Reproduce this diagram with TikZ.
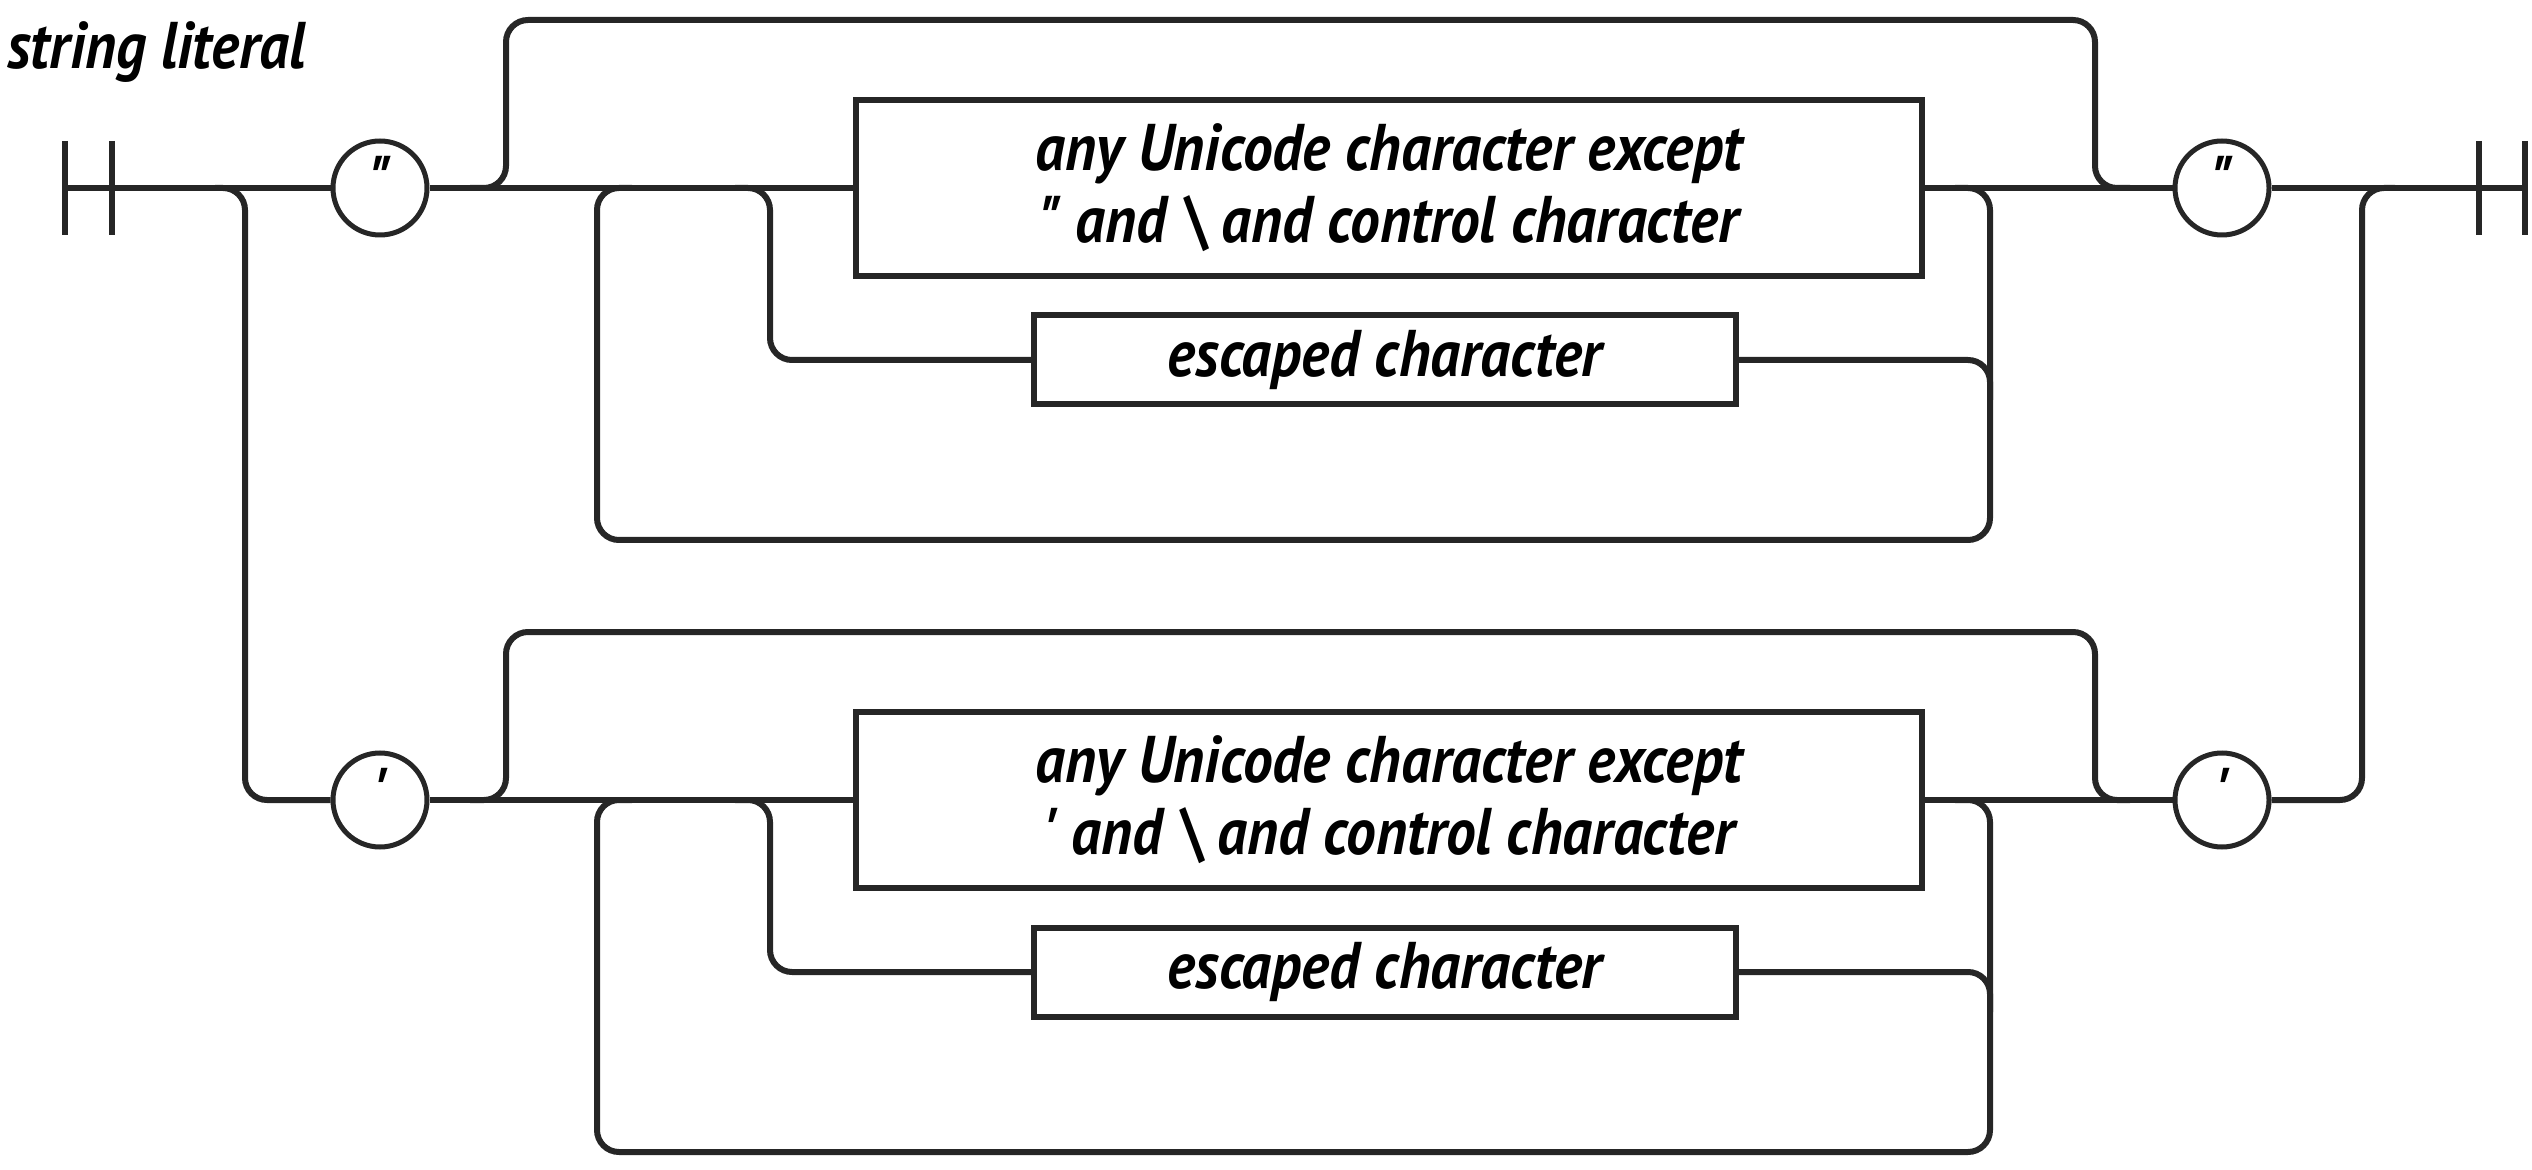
\documentclass[tikz,border=0pt]{standalone}
\usepackage{fontspec}
\setmainfont{PT Sans}[FakeStretch=0.9]
\newfontfamily\qfont{PT Sans}[FakeStretch=0.9,Ligatures=TeXOff]
\newcommand{\dq}{{\qfont\symbol{"22}}}
\newcommand{\sq}{{\qfont\symbol{"27}}}
\begin{document}
\begin{tikzpicture}[x=0.5pt,y=-0.5pt,
  txt/.style={font=\fontsize{33}{36}\selectfont\bfseries\itshape},
  rail/.style={line width=3pt, draw=black!85, rounded corners=11pt},
  bar/.style={line width=3pt, draw=black!85},
  term/.style={circle, draw=black!85, line width=2.5pt, minimum size=47pt, inner sep=0pt, txt},
  nonterm/.style={rectangle, draw=black!85, line width=3pt, inner sep=0pt, align=center, txt},
  lbl/.style={txt, inner sep=0pt}
]
\useasboundingbox (0,0) rectangle (2532,1170);
\node[lbl, anchor=base west] (title) at (7,69) {string literal};

% ---------- upper row (y = 188) ----------
\coordinate (s1) at (65,188);
\coordinate (e2) at (2525,188);
\draw[bar] (65,141) -- (65,235);
\draw[bar] (112,141) -- (112,235);
\draw[bar] (2479,141) -- (2479,235);
\draw[bar] (2525,141) -- (2525,235);

\node[term] (qa) at (380,188) {\strut\dq};
\node[term] (qb) at (2222,188) {\strut\dq};
\node[nonterm, minimum width=533pt, minimum height=88pt] (ua) at (1389,188)
  {any Unicode character except\\\dq{} and \textbackslash{} and control character};
\node[nonterm, minimum width=351pt, minimum height=44.5pt] (ea) at (1385,360) {escaped character};

% ---------- lower row (y = 800) ----------
\node[term] (qc) at (380,800) {\strut\sq};
\node[term] (qd) at (2222,800) {\strut\sq};
\node[nonterm, minimum width=533pt, minimum height=88pt] (ub) at (1389,800)
  {any Unicode character except\\\sq{} and \textbackslash{} and control character};
\node[nonterm, minimum width=351pt, minimum height=44.5pt] (eb) at (1385,972) {escaped character};

% main upper line
\draw[rail] (s1) -- (qa);
\draw[rail] (qa) -- (ua);
\draw[rail] (ua) -- (qb);
\draw[rail] (qb) -- (e2);

% split to lower row and back
\coordinate (la0) at (215,188); \coordinate (la1) at (245,188); \coordinate (la2) at (245,800);
\draw[rail] (la0) -- (la1) -- (la2) -- (qc);
\coordinate (ra0) at (2362,800); \coordinate (ra1) at (2362,188); \coordinate (ra2) at (2395,188);
\draw[rail] (qd) -- (ra0) -- (ra1) -- (ra2);

% lower main line
\draw[rail] (qc) -- (ub);
\draw[rail] (ub) -- (qd);

% bypass, loop and escaped branches for both rows
\foreach \r/\dy in {a/0, b/612}{
  \coordinate (bp0\r) at (470,188+\dy);
  \coordinate (bp1\r) at (506,188+\dy);
  \coordinate (bp2\r) at (506,20+\dy);
  \coordinate (bp3\r) at (2095,20+\dy);
  \coordinate (bp4\r) at (2095,188+\dy);
  \coordinate (bp5\r) at (2130,188+\dy);
  \draw[rail] (bp0\r) -- (bp1\r) -- (bp2\r) -- (bp3\r) -- (bp4\r) -- (bp5\r);
  \coordinate (lp0\r) at (1955,188+\dy);
  \coordinate (lp1\r) at (1990,188+\dy);
  \coordinate (lp2\r) at (1990,540+\dy);
  \coordinate (lp3\r) at (597,540+\dy);
  \coordinate (lp4\r) at (597,188+\dy);
  \coordinate (lp5\r) at (632,188+\dy);
  \draw[rail] (lp0\r) -- (lp1\r) -- (lp2\r) -- (lp3\r) -- (lp4\r) -- (lp5\r);
  \coordinate (es0\r) at (735,188+\dy);
  \coordinate (es1\r) at (770,188+\dy);
  \coordinate (es2\r) at (770,360+\dy);
  \coordinate (es3\r) at (1990,360+\dy);
  \coordinate (es4\r) at (1990,400+\dy);
  \draw[rail] (es0\r) -- (es1\r) -- (es2\r) -- (e\r.west);
  \draw[rail] (e\r.east) -- (es3\r) -- (es4\r);
}
\end{tikzpicture}
\end{document}
